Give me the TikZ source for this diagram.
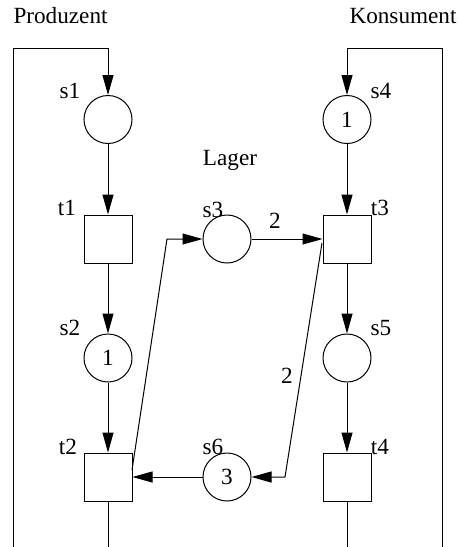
\documentclass[tikz,border=0pt]{standalone}
\usepackage{fontspec}
\setmainfont{Liberation Serif}
\usetikzlibrary{arrows.meta}
\begin{document}
\begin{tikzpicture}[x=0.5pt,y=-0.5pt,line width=0.5pt,
  every node/.style={font=\fontsize{11.6pt}{13pt}\selectfont,inner sep=0pt},
  place/.style={draw,circle,minimum size=24pt},
  trans/.style={draw,rectangle,minimum size=24pt},
  lbl/.style={anchor=center},
  arr/.style={-{Triangle[length=10pt,width=5.5pt]}}]
\useasboundingbox (0,0) rectangle (458,547);
% places and transitions
\node[place] (s1) at (108,119.5) {};
\node[trans] (t1) at (108,239) {};
\node[place] (s2) at (108,358) {\raisebox{-1.5pt}{1}};
\node[trans] (t2) at (108,477) {};
\node[place] (s4) at (347,119.5) {\raisebox{-1.5pt}{1}};
\node[trans] (t3) at (347,239) {};
\node[place] (s5) at (347,358) {};
\node[trans] (t4) at (347,477) {};
\node[place] (s3) at (227,239) {};
\node[place] (s6) at (227,477) {\raisebox{-1.5pt}{3}};
% labels
\node[anchor=base west] (prod) at (13,23.5) {Produzent};
\node[anchor=base east] (kons) at (457,23.5) {Konsument};
\node[lbl] (lager) at (230,160) {Lager};
\node[lbl] (ls1) at (70,91) {s1};
\node[lbl] (lt1) at (67,208) {t1};
\node[lbl] (ls2) at (70,328) {s2};
\node[lbl] (lt2) at (68,447) {t2};
\node[lbl] (ls3) at (213,210) {s3};
\node[lbl] (ls6) at (213,447) {s6};
\node[lbl] (ls4) at (381,91) {s4};
\node[lbl] (lt3) at (380,208) {t3};
\node[lbl] (ls5) at (381,328) {s5};
\node[lbl] (lt4) at (380,447) {t4};
\node[lbl] (w1) at (275,221) {2};
\node[lbl] (w2) at (287,376) {2};
% frame coordinates
\coordinate (lb) at (13,547);
\coordinate (lt) at (13,48);
\coordinate (lm) at (108,48);
\coordinate (t2b) at (108,547);
\coordinate (rb) at (442,547);
\coordinate (rt) at (442,48);
\coordinate (rm) at (347,48);
\coordinate (t4b) at (347,547);
\coordinate (a1) at (132,470);
\coordinate (a2) at (167,239);
\coordinate (b1) at (322,243);
\coordinate (b2) at (285,477);
% connectors
\draw[arr] (lb) -- (lt) -- (lm) -- (s1);
\draw[arr] (s1) -- (t1);
\draw[arr] (t1) -- (s2);
\draw[arr] (s2) -- (t2);
\draw (t2) -- (t2b);
\draw[arr] (rb) -- (rt) -- (rm) -- (s4);
\draw[arr] (s4) -- (t3);
\draw[arr] (t3) -- (s5);
\draw[arr] (s5) -- (t4);
\draw (t4) -- (t4b);
\draw[arr] (a1) -- (a2) -- (s3);
\draw[arr] (s3) -- (t3);
\draw[arr] (b1) -- (b2) -- (s6);
\draw[arr] (s6) -- (t2);
\end{tikzpicture}
\end{document}
